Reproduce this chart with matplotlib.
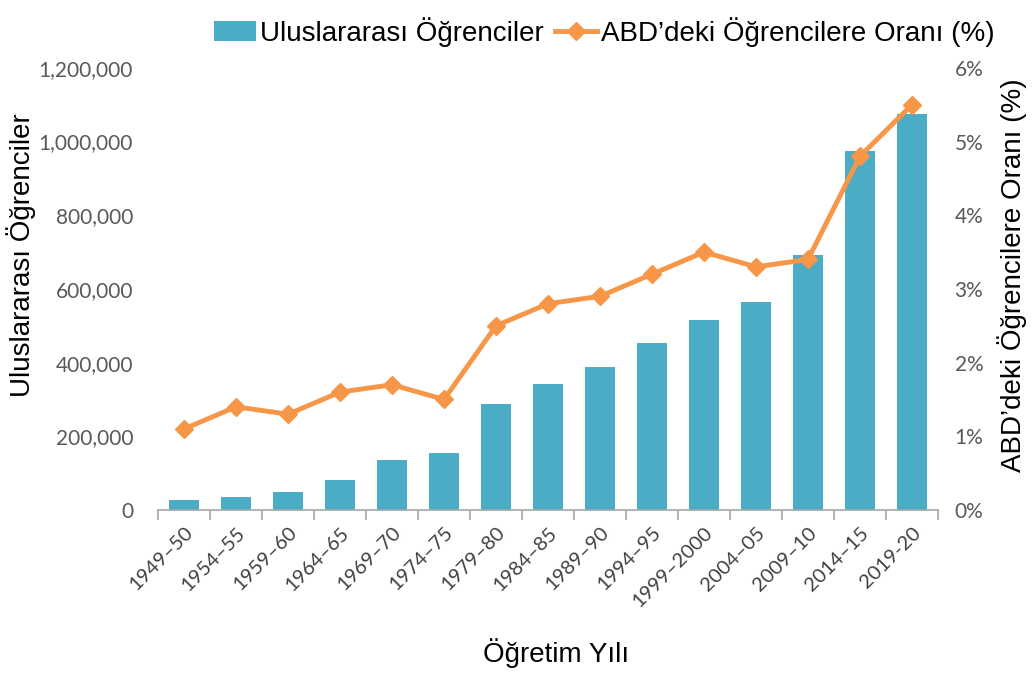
import numpy as np
import matplotlib.pyplot as plt
from matplotlib.ticker import FuncFormatter, FixedLocator

years = ["1949–50", "1954–55", "1959–60", "1964–65", "1969–70", "1974–75",
         "1979–80", "1984–85", "1989–90", "1994–95", "1999–2000", "2004–05",
         "2009–10", "2014–15", "2019-20"]
students = [26433, 34232, 48486, 82045, 134959, 154580, 286343, 342113,
            386851, 452635, 514723, 565039, 690923, 974926, 1075496]
share_pct = [1.1, 1.4, 1.3, 1.6, 1.7, 1.5, 2.5, 2.8, 2.9, 3.2, 3.5, 3.3, 3.4, 4.8, 5.5]

bar_color = "#4BACC6"
line_color = "#F79646"
tick_color = "#595959"

fig = plt.figure(figsize=(10.33, 6.77), dpi=100)
ax = fig.add_axes([0.153, 0.2467, 0.755, 0.653])
ax2 = ax.twinx()

x = np.arange(len(years))
bars = ax.bar(x, students, width=0.57, color=bar_color, label="Uluslararası Öğrenciler", zorder=2)
line, = ax2.plot(x, share_pct, color=line_color, lw=3.5, marker="D", markersize=9,
                 label="ABD’deki Öğrencilere Oranı (%)", zorder=3)

ax.set_xlim(-0.5, len(years) - 0.5)
ax.set_ylim(0, 1200000)
ax2.set_ylim(0, 6)
ax.set_yticks(np.arange(0, 1200001, 200000))
ax2.set_yticks(np.arange(0, 7, 1))
ax.yaxis.set_major_formatter(FuncFormatter(lambda v, p: f"{int(v):,}"))
ax2.yaxis.set_major_formatter(FuncFormatter(lambda v, p: f"{int(v)}%"))

for a in (ax, ax2):
    for s in ("top", "left", "right", "bottom"):
        a.spines[s].set_visible(False)
ax.spines["bottom"].set_visible(True)
ax.spines["bottom"].set_color("#A6A6A6")
ax.spines["bottom"].set_linewidth(1.2)

ax.set_xticks(x)
ax.set_xticklabels(years, rotation=45, ha="right", rotation_mode="anchor",
                   fontsize=14.5, family="Lato", color="#404040")
ax.xaxis.set_minor_locator(FixedLocator(np.arange(-0.5, len(years), 1)))
ax.tick_params(axis="x", which="major", length=0, pad=10)
ax.tick_params(axis="x", which="minor", length=7, color="#A6A6A6", width=1.2)
ax.tick_params(axis="y", length=0, labelsize=15, labelcolor=tick_color, pad=18)
ax2.tick_params(axis="y", length=0, labelsize=15, labelcolor=tick_color, pad=12)
for lab in ax.get_yticklabels() + ax2.get_yticklabels():
    lab.set_family("Lato")

ax.set_ylabel("Uluslararası Öğrenciler", fontsize=20, family="Liberation Sans", labelpad=2)
ax2.set_ylabel("ABD’deki Öğrencilere Oranı (%)", fontsize=20, family="Liberation Sans", labelpad=10)
ax.yaxis.label.set_y(0.577)
ax2.yaxis.label.set_y(0.532)
fig.text(0.538, 0.022, "Öğretim Yılı", fontsize=20, family="Liberation Sans", ha="center")

fig.legend(handles=[bars, line], loc="upper center", bbox_to_anchor=(0.585, 1.012), ncol=2,
           frameon=False, prop={"family": "Liberation Sans", "size": 20},
           handlelength=1.5, handletextpad=0.15, columnspacing=0.4)

fig.savefig("out.png", dpi=100)
